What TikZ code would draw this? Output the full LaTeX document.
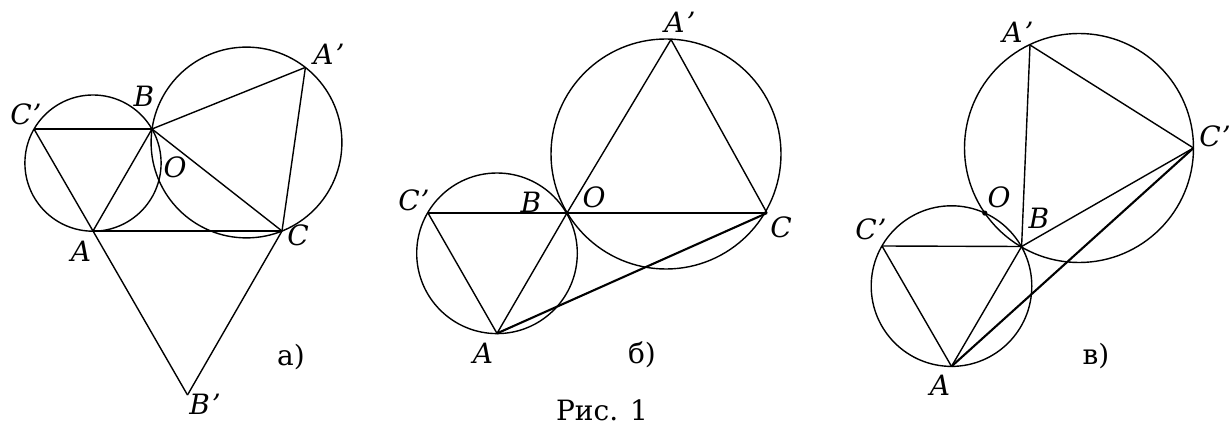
\documentclass[tikz,border=0pt]{standalone}
\usepackage{fontspec}
\setmainfont{DejaVu Serif}
\begin{document}
\begin{tikzpicture}[x=1pt,y=-1pt,
  geo/.style={line width=1.4pt, line join=round},
  heavy/.style={line width=2.1pt},
  lbl/.style={font=\fontsize{28}{32}\selectfont\itshape, inner sep=0pt},
  sublbl/.style={font=\fontsize{28}{32}\selectfont, inner sep=0pt},
  ttl/.style={font=\fontsize{28}{32}\selectfont, inner sep=0pt}]
\useasboundingbox (0,0) rectangle (1232,425);

% ---------- figure a ----------
\coordinate (aCp) at (34,129);
\coordinate (aB)  at (152,129);
\coordinate (aA)  at (93,231);
\coordinate (aC)  at (282,231);
\coordinate (aAp) at (305.4,67.4);
\coordinate (aBp) at (187.5,395);
\coordinate (aK1) at (93,163.1);
\coordinate (aK2) at (246.5,142.5);
\draw[geo] (aK1) circle[radius=68.1];
\draw[geo] (aK2) circle[radius=95.4];
\draw[geo] (aCp) -- (aB);
\draw[geo] (aCp) -- (aA);
\draw[geo] (aA) -- (aB);
\draw[geo] (aB) -- (aAp);
\draw[geo] (aAp) -- (aC);
\draw[geo] (aB) -- (aC);
\draw[geo, line width=1.7pt] (aA) -- (aC);
\draw[geo] (aA) -- (aBp);
\draw[geo] (aBp) -- (aC);
\node[lbl] (laCp) at (26,114) {C\kern1pt’};
\node[lbl] (laB)  at (144,96) {B};
\node[lbl] (laO)  at (175,167) {O};
\node[lbl] (laAp) at (329,54) {A\kern2pt’};
\node[lbl] (laA)  at (81,251) {A};
\node[lbl] (laC)  at (298,235) {C};
\node[lbl] (laBp) at (205,404) {B\kern2pt’};
\node[sublbl] (laT)  at (291,357) {а)};

% ---------- figure b ----------
\coordinate (bCp) at (428,213);
\coordinate (bB)  at (567,213);
\coordinate (bA)  at (497,333.4);
\coordinate (bC)  at (767,213);
\coordinate (bAp) at (671,39.5);
\coordinate (bK1) at (497,253.3);
\coordinate (bK2) at (666,154);
\draw[geo] (bK1) circle[radius=80.3];
\draw[geo] (bK2) circle[radius=115];
\draw[geo] (bCp) -- (bC);
\draw[geo] (bCp) -- (bA);
\draw[geo] (bA) -- (bB);
\draw[geo] (bB) -- (bAp);
\draw[geo] (bAp) -- (bC);
\draw[geo, heavy] (bA) -- (bC);
\node[lbl] (lbCp) at (414,200) {C\kern1pt’};
\node[lbl] (lbB)  at (531,202) {B};
\node[lbl] (lbO)  at (594,197) {O};
\node[lbl] (lbC)  at (781,227) {C};
\node[lbl] (lbAp) at (680,22) {A\kern2pt’};
\node[lbl] (lbA)  at (483,353) {A};
\node[sublbl] (lbT)  at (642,355) {б)};
\node[ttl, anchor=base] (fig)  at (602,420) {Рис. 1};

% ---------- figure c ----------
\coordinate (cCp) at (882,246);
\coordinate (cB)  at (1021.6,246.5);
\coordinate (cA)  at (951.5,366.4);
\coordinate (cC)  at (1193.5,148);
\coordinate (cAp) at (1030,45);
\coordinate (cO)  at (984.8,213.1);
\coordinate (cK1) at (951.5,286.1);
\coordinate (cK2) at (1079,148);
\draw[geo] (cK1) circle[radius=80.3];
\draw[geo] (cK2) circle[radius=114.5];
\draw[geo] (cCp) -- (cB);
\draw[geo] (cCp) -- (cA);
\draw[geo] (cA) -- (cB);
\draw[geo] (cB) -- (cAp);
\draw[geo] (cAp) -- (cC);
\draw[geo] (cB) -- (cC);
\draw[geo, heavy] (cA) -- (cC);
\fill (cO) circle[radius=2.6];
\node[lbl] (lcAp) at (1018,32) {A\kern2pt’};
\node[lbl, anchor=east] (lcC) at (1231,136) {C\kern1pt’};
\node[lbl] (lcO)  at (999,197) {O};
\node[lbl] (lcB)  at (1039,218) {B};
\node[lbl] (lcCp) at (871,229) {C\kern1pt’};
\node[lbl] (lcA)  at (940,385) {A};
\node[sublbl] (lcT)  at (1096,356) {в)};
\end{tikzpicture}
\end{document}
